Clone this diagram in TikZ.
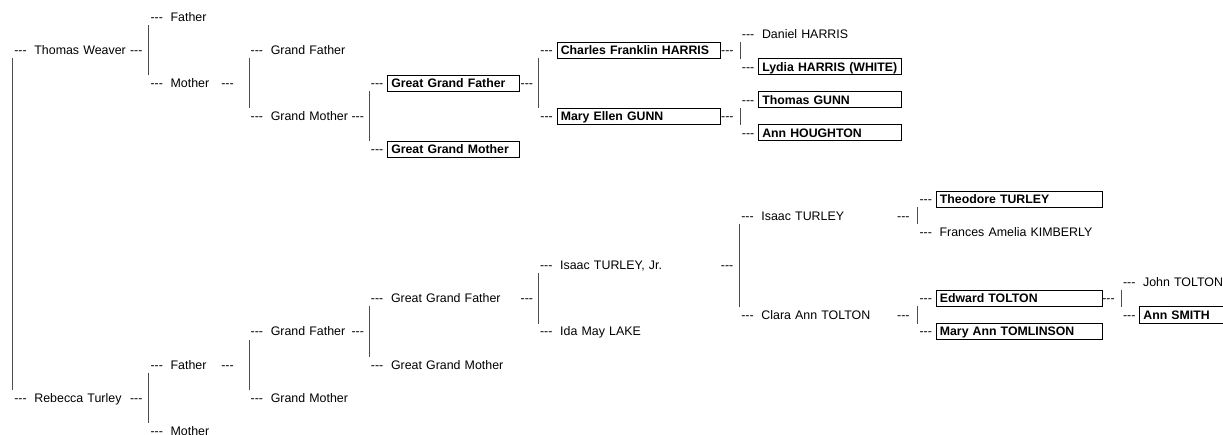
\documentclass[tikz,border=0pt]{standalone}
\usepackage{fontspec}
\newfontfamily\chartfont{Liberation Sans}
\newcommand\dsh{-\kern0pt-\kern0pt-}
\begin{document}
\begin{tikzpicture}[x=1pt,y=1pt,grow'=right,
	anchor=west,align=left,inner xsep=3.5pt,inner ysep=2pt,text height=10.5pt,text depth=1.6pt,
	font=\chartfont\fontsize{12.4pt}{14pt}\selectfont,
	dashlbl/.style={inner sep=0pt,text width=},
	boxed/.style={draw=black,line width=1pt,font=\chartfont\bfseries\fontsize{12.3pt}{14pt}\selectfont},
	edge from parent/.style={draw=black!70,line width=1pt,shorten >=8pt},
	edge from parent path={(\tikzchildnode.west) node[dashlbl,anchor=east,xshift=-3.5pt] (\tikzchildnode-lead) {\dsh}
		([xshift=-18pt]\tikzchildnode.west |- \tikzparentnode.center) -- ([xshift=-18pt]\tikzchildnode.west)},
	level 1/.style={level distance=18pt,sibling distance=347.55pt,text width=103pt,tail/.style={label={[dashlbl,xshift=112pt]west:\dsh}}},
	level 2/.style={level distance=81pt,sibling distance=66.2pt,text width=53pt,tail/.style={label={[dashlbl,xshift=67pt]west:\dsh}}},
	level 3/.style={level distance=70pt,sibling distance=66.2pt,text width=83pt,tail/.style={label={[dashlbl,xshift=97pt]west:\dsh}}},
	level 4/.style={level distance=75pt,sibling distance=66.2pt,text width=125pt,tail/.style={label={[dashlbl,xshift=146pt]west:\dsh}}},
	level 5/.style={level distance=103pt,sibling distance=66.2pt,text width=156pt,tail/.style={label={[dashlbl,xshift=177pt]west:\dsh}}},
	level 6/.style={level distance=119.5pt,sibling distance=33.1pt,text width=136pt,tail/.style={label={[dashlbl,xshift=152pt]west:\dsh}}},
	level 7/.style={level distance=106.5pt,sibling distance=33.1pt,text width=159pt,tail/.style={label={[dashlbl,xshift=179pt]west:\dsh}}},
	level 8/.style={level distance=120pt,sibling distance=33.1pt,text width=135pt}]
	\useasboundingbox (0,0) rectangle (1223,-435);
	\clip (0,0) rectangle (1223,-435);
	\node[inner sep=0pt,text height=0pt,text depth=0pt] (root) at (12,-223.93) {}
		child {node[tail] (thomas) {Thomas Weaver}
			child {node (tfather) {Father}}
			child {node[tail] (tmother) {Mother}
				child {node (tgfather) {Grand Father}}
				child {node[tail] (tgmother) {Grand Mother}
					child {node[boxed,tail] (tggfather) {Great Grand Father}
						child {node[boxed,tail] (charles) {Charles Franklin HARRIS}
							child {node (daniel) {Daniel HARRIS}}
							child {node[boxed] (lydia) {Lydia HARRIS (WHITE)}}
						}
						child {node[boxed,tail] (maryellen) {Mary Ellen GUNN}
							child {node[boxed] (thomasgunn) {Thomas GUNN}}
							child {node[boxed] (annhoughton) {Ann HOUGHTON}}
						}
					}
					child {node[boxed] (tggmother) {Great Grand Mother}}
				}
			}
		}
		child {node[tail] (rebecca) {Rebecca Turley}
			child {node[tail] (rfather) {Father}
				child {node[tail] (rgfather) {Grand Father}
					child {node[tail] (rggfather) {Great Grand Father}
						child {node[tail] (isaacjr) {Isaac TURLEY, Jr.}
							child[sibling distance=99.3pt] {node[tail] (isaac) {Isaac TURLEY}
								child {node[boxed] (theodore) {Theodore TURLEY}}
								child {node (frances) {Frances Amelia KIMBERLY}}
							}
							child[sibling distance=99.3pt] {node[tail] (clara) {Clara Ann TOLTON}
								child {node[boxed,tail] (edward) {Edward TOLTON}
									child {node (john) {John TOLTON}}
									child {node[boxed] (annsmith) {Ann SMITH}}
								}
								child {node[boxed] (maryann) {Mary Ann TOMLINSON}}
							}
						}
						child {node (ida) {Ida May LAKE}}
					}
					child {node (rggmother) {Great Grand Mother}}
				}
				child {node (rgmother) {Grand Mother}}
			}
			child {node (rmother) {Mother}}
		};
\end{tikzpicture}
\end{document}
